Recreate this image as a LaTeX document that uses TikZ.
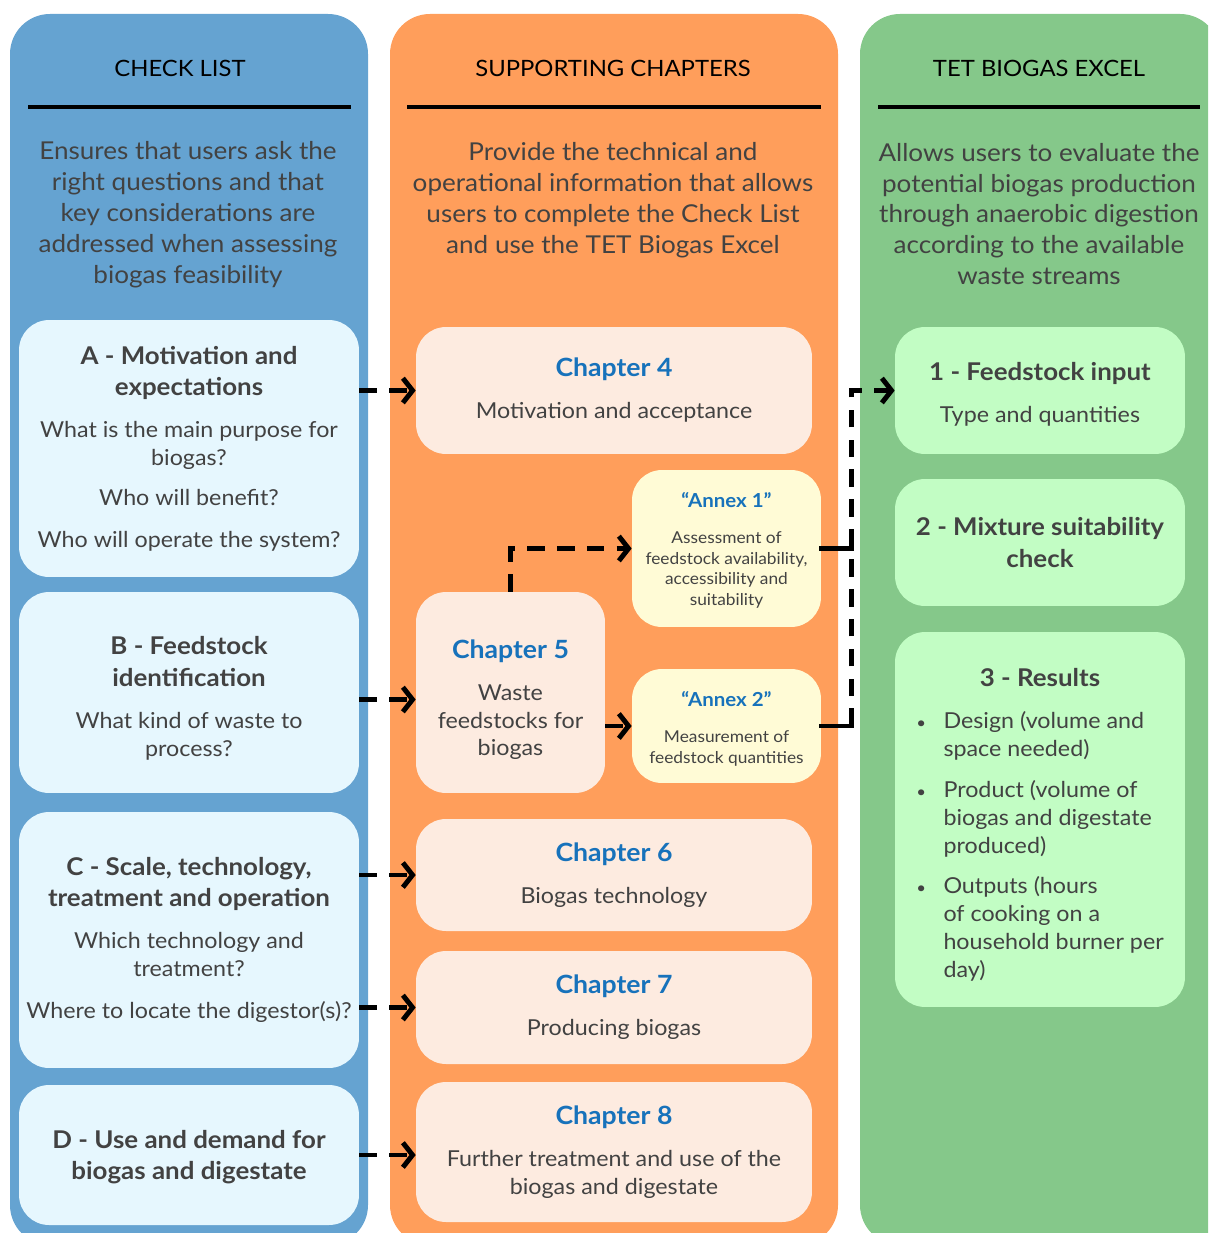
\documentclass[tikz,border=0pt]{standalone}
\usepackage{fontspec}
\setmainfont{Lato}[FakeStretch=1.06]
\usetikzlibrary{arrows.meta,positioning}

\definecolor{checkcol}{RGB}{101,163,209}
\definecolor{checkbox}{RGB}{230,247,254}
\definecolor{chapcol}{RGB}{255,158,91}
\definecolor{chapbox}{RGB}{253,235,224}
\definecolor{annexbox}{RGB}{255,251,214}
\definecolor{excelcol}{RGB}{133,200,138}
\definecolor{excelbox}{RGB}{194,253,196}
\definecolor{chapblue}{RGB}{23,114,187}
\definecolor{txtgrey}{RGB}{66,66,66}

\newcommand{\boxtitle}[1]{\textbf{\fontsize{13.9}{18}\selectfont #1}}
\newcommand{\chaptitle}[1]{\textcolor{chapblue}{\textbf{\fontsize{14.3}{18}\selectfont #1}}}
\newcommand{\annextitle}[1]{\textcolor{chapblue}{\textbf{\fontsize{11}{14}\selectfont #1}}}
\newcommand{\topgap}[1]{\rule{0pt}{#1}}

\begin{document}
\begin{tikzpicture}[x=0.02cm, y=-0.02cm,
	every node/.style={text=txtgrey, align=center},
	column/.style={rounded corners=0.8cm},
	head/.style={text=black, font=\fontsize{12.8}{16}\selectfont},
	blurb/.style={font=\fontsize{14}{17.6}\selectfont},
	card/.style={rounded corners=0.6cm, inner sep=0pt, font=\fontsize{12.5}{15.9}\selectfont},
	checkcard/.style={card, fill=checkbox, minimum width=6.8cm},
	chapcard/.style={card, fill=chapbox},
	annexcard/.style={card, fill=annexbox, minimum width=3.78cm, font=\fontsize{9.3}{11.9}\selectfont},
	excelcard/.style={card, fill=excelbox, minimum width=5.8cm},
	rule/.style={line width=2.8pt},
	link/.style={line width=2.8pt, dash pattern=on 10pt off 7pt, -{Straight Barb[length=5.5pt,width=14pt]}},
	feed/.style={line width=2.8pt, line cap=rect}]
	\useasboundingbox (0,0) rectangle (1208,1233);
	\clip (0,0) rectangle (1208,1233);

	\fill[column, checkcol] (10,14) rectangle (368,1245);
	\fill[column, chapcol] (390,14) rectangle (838,1245);
	\fill[column, excelcol] (860,14) rectangle (1220,1245);

	\node[head] (checkhead) at (180,68) {CHECK LIST};
	\node[head] (chaphead) at (613,68) {SUPPORTING CHAPTERS};
	\node[head] (excelhead) at (1039,68) {TET BIOGAS EXCEL};
	\draw[rule] (28,107) -- (351,107);
	\draw[rule] (407,107) -- (821,107);
	\draw[rule] (878,107) -- (1200,107);

	\node[blurb] (checkblurb) at (188,215) {Ensures that users ask the\\right questions and that\\key considerations are\\addressed when assessing\\biogas feasibility};
	\node[blurb] (chapblurb) at (613,200) {Provide the technical and\\operational information that allows\\users to complete the Check List\\and use the TET Biogas Excel};
	\node[blurb] (excelblurb) at (1039,214) {Allows users to evaluate the\\potential biogas production\\through anaerobic digestion\\according to the available\\waste streams};

	\node[checkcard, minimum height=5.14cm] (motive) at (189,448.5) {\boxtitle{A - Motivation and}\\[2pt]\boxtitle{expectations}\\[8pt]What is the main purpose for\\biogas?\\[6.8pt]Who will benefit?\\[8pt]Who will operate the system?};
	\node[checkcard, minimum height=4.02cm] (feedstock) at (189,692.5) {\topgap{16.8pt}\boxtitle{B - Feedstock}\\[2pt]\boxtitle{identification}\\[8pt]What kind of waste to\\process?};
	\node[checkcard, minimum height=5.12cm] (scale) at (189,940) {\boxtitle{C - Scale, technology,}\\[2pt]\boxtitle{treatment and operation}\\[8pt]Which technology and\\treatment?\\[8pt]Where to locate the digestor(s)?};
	\node[checkcard, minimum height=2.8cm] (demand) at (189,1155) {\topgap{12.5pt}\boxtitle{D - Use and demand for}\\[2pt]\boxtitle{biogas and digestate}};

	\node[chapcard, minimum width=7.92cm, minimum height=2.54cm] (chap4) at (614,390.5) {\chaptitle{Chapter 4}\\[8pt]Motivation and acceptance};
	\node[chapcard, minimum width=3.78cm, minimum height=4.02cm] (chap5) at (510.5,692.5) {\topgap{18.8pt}\chaptitle{Chapter 5}\\[8pt]Waste\\feedstocks for\\biogas};
	\node[annexcard, minimum height=3.14cm] (annex1) at (726.5,548.5) {\topgap{10.8pt}\annextitle{“Annex 1”}\\[8.5pt]Assessment of\\feedstock availability,\\accessibility and\\suitability};
	\node[annexcard, minimum height=2.28cm] (annex2) at (726.5,726) {\topgap{12pt}\annextitle{“Annex 2”}\\[8.5pt]Measurement of\\feedstock quantities};
	\node[chapcard, minimum width=7.92cm, minimum height=2.24cm] (chap6) at (614,875) {\chaptitle{Chapter 6}\\[8pt]Biogas technology};
	\node[chapcard, minimum width=7.92cm, minimum height=2.26cm] (chap7) at (614,1007.5) {\chaptitle{Chapter 7}\\[8pt]Producing biogas};
	\node[chapcard, minimum width=7.92cm, minimum height=2.8cm] (chap8) at (614,1152) {\chaptitle{Chapter 8}\\[8pt]Further treatment and use of the\\biogas and digestate};

	\node[excelcard, minimum height=2.54cm] (input) at (1040,390.5) {\topgap{14.2pt}\boxtitle{1 - Feedstock input}\\[8pt]Type and quantities};
	\node[excelcard, minimum height=2.54cm] (mixture) at (1040,542.5) {\boxtitle{2 - Mixture suitability}\\[2pt]\boxtitle{check}};
	\node[excelcard, minimum height=7.5cm] (results) at (1040,819.5) {\begin{tabular}{@{}c@{\hspace{0.35cm}}l@{}}
		\multicolumn{2}{c}{\topgap{19pt}\boxtitle{3 - Results}}\\[8pt]
		{\small\textbullet} & Design (volume and\\
		& space needed)\\[7.3pt]
		{\small\textbullet} & Product (volume of\\
		& biogas and digestate\\
		& produced)\\[7.3pt]
		{\small\textbullet} & Outputs (hours\\
		& of cooking on a\\
		& household burner per\\
		& day)
	\end{tabular}};

	\draw[link] (motive.east |- chap4.west) -- (chap4.west);
	\draw[link] ([yshift=-4pt]feedstock.east) -- ([yshift=-4pt]chap5.west);
	\draw[link] (scale.east |- chap6.west) -- (chap6.west);
	\draw[link] (scale.east |- chap7.west) -- (chap7.west);
	\draw[link] (demand.east) -- (demand.east -| chap8.west);
	\draw[link] (chap5.north) |- (annex1.west);
	\draw[link] (chap5.east |- annex2.west) -- (annex2.west);

	\coordinate (merge) at ([xshift=0.6cm]annex2.east);
	\draw[feed] (annex2.east) -- (merge);
	\draw[feed] (annex1.east) -- (annex1.east -| merge);
	\draw[link] (merge) |- (input.west);
\end{tikzpicture}
\end{document}
